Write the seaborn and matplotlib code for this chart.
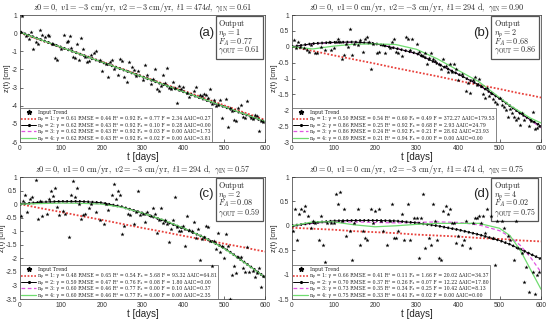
import matplotlib
matplotlib.use("Agg")
import matplotlib.pyplot as plt
from matplotlib.lines import Line2D
import seaborn as sns

sns.set_theme(style="ticks")
plt.rcParams['font.family'] = ['Liberation Sans', 'DejaVu Sans']
plt.rcParams['mathtext.fontset'] = 'cm'
plt.rcParams['axes.unicode_minus'] = False

# ---------------- data ----------------
t_a = [2,6,15,22,28,32,38,45,50,55,62,68,72,78,82,85,90,100,108,115,118,122,125,130,135,140,145,150,155,160,165,170,175,180,185,195,200,210,215,220,225,230,240,245,250,255,262,268,275,280,285,290,300,305,310,320,325,330,335,340,345,350,355,360,365,370,375,380,385,390,395,400,410,415,425,430,440,445,450,455,460,465,470,475,480,485,490,495,505,510,515,520,525,530,535,540,545,550,555,565,570,575,580,585,590,595]
z_a = [0.05,0.95,-0.15,-0.3,0.05,-0.85,-0.5,-0.6,0.2,-0.1,-0.2,-0.1,-0.15,-0.6,-0.6,-1.35,-1.5,-0.85,-0.1,-0.5,-0.45,-0.15,-0.8,-1.3,-1.35,-0.6,-1.5,-0.25,-0.9,-1.3,-1.6,-1.55,-1.2,-1.1,-1.0,-1.5,-2.1,-1.7,-2.4,-1.6,-1.5,-2.0,-2.3,-1.4,-1.55,-2.4,-2.7,-1.6,-1.85,-2.05,-2.35,-2.1,-2.6,-1.75,-2.3,-2.8,-2.55,-1.95,-3.1,-3.2,-2.9,-2.3,-2.75,-1.9,-3.0,-3.1,-2.7,-3.05,-3.85,-2.9,-3.1,-2.95,-3.3,-3.5,-3.2,-2.95,-3.4,-3.45,-3.35,-3.4,-3.6,-3.1,-3.9,-3.7,-4.0,-3.95,-3.7,-4.7,-3.65,-5.2,-4.1,-4.3,-4.8,-4.85,-4.1,-3.95,-4.6,-4.7,-3.75,-4.65,-4.75,-4.5,-4.55,-5.4,-4.85,-4.9]

t_b = [5,10,15,20,30,35,40,45,55,60,70,80,90,95,100,105,110,115,120,125,130,135,140,145,150,160,165,170,175,180,185,190,195,205,210,220,225,235,240,245,250,255,265,275,280,285,290,300,305,310,315,320,325,330,335,340,345,355,360,365,370,375,380,385,390,395,400,410,420,425,430,435,440,445,450,455,460,465,470,475,480,485,490,495,500,505,510,515,520,525,530,535,540,545,550,555,560,570,575,580,585,590,595]
z_b = [0.2,-0.05,0.15,0.0,-0.05,-0.1,-0.15,0.05,-0.2,-0.2,0.0,-0.1,0.15,-0.1,-0.05,0.15,0.25,0.15,-0.4,-0.25,0.1,0.0,0.55,-0.25,0.1,0.05,0.2,-0.15,0.25,0.3,0.15,-0.7,0.1,-0.2,-0.15,0.05,-0.2,-0.05,0.15,0.25,-0.15,-0.2,-0.3,0.3,0.25,-0.1,0.25,0.1,-0.15,-0.25,-0.3,-0.2,-0.55,-0.35,-0.2,-0.4,-0.45,-0.55,-0.7,-0.4,-0.6,-0.8,-0.55,-0.8,-0.55,-0.7,-1.05,-0.85,-1.4,-1.15,-1.45,-1.05,-0.95,-1.2,-1.0,-1.25,-1.5,-1.6,-1.3,-1.55,-1.45,-1.65,-1.75,-1.8,-1.6,-1.85,-1.9,-2.0,-2.2,-1.95,-2.1,-2.2,-2.3,-2.25,-2.45,-2.1,-2.3,-2.5,-2.35,-2.05,-2.6,-2.55,-2.5]

t_c = [2,8,12,18,25,30,40,45,50,55,65,70,75,80,85,90,95,105,110,120,125,130,135,140,145,150,155,160,170,175,185,195,205,210,215,225,230,235,240,245,250,255,265,270,280,285,290,295,300,305,310,320,325,330,335,340,345,350,355,360,365,370,375,380,385,390,395,400,405,410,415,420,425,430,435,440,445,450,455,460,465,470,475,480,485,490,495,500,505,510,515,520,525,530,535,540,545,550,555,560,570,575,580,585,590,595]
z_c = [-0.45,0.1,0.35,-0.3,0.2,0.25,0.9,-0.55,0.1,-0.45,-0.35,0.2,0.5,0.3,0.6,-0.1,-0.4,-0.25,-0.35,-1.2,0.35,0.85,0.25,0.6,0.0,-0.55,-0.4,-0.35,-0.15,0.0,-0.3,-0.6,-0.75,0.0,-0.2,0.35,0.75,0.2,0.5,0.35,-1.1,-0.8,-0.35,-0.4,-0.75,-0.3,0.5,-0.4,-0.35,-0.65,-0.3,-0.45,-0.15,-0.35,-1.05,-0.6,-0.15,-0.7,-0.6,-0.75,-1.4,-0.9,-0.6,0.25,-0.85,-1.0,-1.0,-0.8,-1.55,-0.45,-0.95,-1.0,-0.65,-1.25,-0.9,-2.05,-1.3,-1.2,-0.8,-0.85,-1.35,-2.3,-1.35,-1.65,-1.05,-1.75,-1.55,-2.0,-1.1,-1.55,-3.5,-2.6,-2.3,-2.55,-1.95,-1.95,-2.35,-2.5,-1.6,-2.5,-2.45,-2.7,-2.55,-2.35,-3.05,-2.65]

t_d = [2,8,12,18,22,28,32,38,45,50,55,65,70,75,80,85,95,100,105,110,115,120,125,130,140,145,150,160,165,170,175,180,190,195,200,210,215,220,230,235,240,245,250,255,265,270,280,285,295,300,305,310,315,320,330,335,340,345,350,355,360,365,370,375,380,385,390,395,400,410,415,420,430,435,440,445,450,455,460,465,470,480,485,490,495,505,510,520,525,535,540,545,555,560,565,570,580,585,590,595]
z_d = [-0.1,0.35,-0.3,0.25,0.35,0.3,0.4,0.2,-0.05,0.1,0.05,-0.3,0.2,-0.4,-0.75,0.05,0.05,0.05,0.65,0.45,0.7,0.1,0.35,-0.2,-0.1,-0.7,0.05,0.35,-0.4,-0.1,-0.25,-0.3,0.35,0.05,0.3,0.35,0.1,-0.1,-0.4,0.1,0.45,-0.25,-0.25,-0.1,0.25,-0.3,0.45,-0.3,0.15,0.15,-0.65,0.15,0.65,-0.45,-0.25,-0.4,0.45,0.1,-0.3,-0.65,-0.7,0.3,0.4,0.25,0.35,0.05,0.05,-0.35,-0.2,-0.4,-0.3,0.1,-0.45,0.05,0.15,0.15,0.2,0.05,0.2,-0.15,0.35,0.2,-0.25,-0.8,0.1,0.1,-0.05,-0.2,-0.3,-0.7,0.1,-0.45,-0.55,-1.15,-0.85,-1.35,-0.95,-1.4,-1.0,-0.95]

t_fit = [0,50,100,150,200,250,300,350,400,450,500,525,550,575,600]

fit_a1 = [0.02,-0.38,-0.78,-1.17,-1.57,-1.97,-2.38,-2.78,-3.17,-3.57,-3.98,-4.18,-4.38,-4.58,-4.78]
fit_a2 = [0.06,-0.35,-0.77,-1.18,-1.60,-2.00,-2.41,-2.83,-3.23,-3.65,-4.06,-4.27,-4.47,-4.68,-4.88]
fit_a3 = [0.06,-0.35,-0.77,-1.18,-1.60,-2.00,-2.41,-2.83,-3.23,-3.65,-4.06,-4.27,-4.47,-4.68,-4.88]
fit_a4 = [0.05,-0.36,-0.77,-1.18,-1.59,-2.00,-2.41,-2.82,-3.23,-3.64,-4.05,-4.26,-4.46,-4.67,-4.87]

fit_b1 = [0,-0.13,-0.27,-0.40,-0.53,-0.67,-0.80,-0.93,-1.07,-1.20,-1.33,-1.40,-1.47,-1.53,-1.60]
fit_b2 = [0,0.10,0.14,0.15,0.10,-0.05,-0.21,-0.53,-0.86,-1.20,-1.63,-1.86,-2.10,-2.30,-2.50]
fit_b3 = [0,0.09,0.13,0.14,0.10,-0.04,-0.22,-0.52,-0.86,-1.21,-1.62,-1.85,-2.10,-2.32,-2.55]
fit_b4 = [0,-0.07,0.02,0.08,0.09,0.07,-0.08,-0.38,-0.74,-1.10,-1.60,-1.85,-2.05,-2.25,-2.40]

fit_c1 = [0,-0.15,-0.29,-0.44,-0.58,-0.73,-0.88,-1.02,-1.17,-1.31,-1.46,-1.53,-1.60,-1.68,-1.75]
fit_c2 = [0,0.07,0.10,0.10,0.05,-0.10,-0.33,-0.60,-0.90,-1.22,-1.62,-1.88,-2.15,-2.42,-2.70]
fit_c3 = [0,0.03,0.05,0.04,0.01,-0.12,-0.33,-0.59,-0.89,-1.22,-1.63,-1.88,-2.15,-2.42,-2.70]
fit_c4 = [0,0.02,0.04,0.03,0.00,-0.12,-0.33,-0.58,-0.88,-1.22,-1.64,-1.89,-2.16,-2.43,-2.70]

fit_d1 = [-0.04,-0.06,-0.08,-0.11,-0.13,-0.15,-0.18,-0.20,-0.22,-0.25,-0.27,-0.28,-0.30,-0.31,-0.32]
fit_d2 = [0,0.06,0.10,0.11,0.11,0.10,0.06,0.00,-0.08,-0.18,-0.30,-0.38,-0.48,-0.58,-0.68]
fit_d3 = [0,0.05,0.08,0.08,0.07,0.06,0.07,0.08,0.07,0.02,-0.10,-0.22,-0.40,-0.65,-0.95]
fit_d4 = [0,0.08,0.08,0.02,-0.02,0.00,0.03,0.05,0.05,0.05,-0.05,-0.20,-0.50,-0.90,-1.30]

titles = [
    r"$z0 = 0,\ v1 = -3\ \mathrm{cm/yr},\ v2 = -3\ \mathrm{cm/yr},\ t1 = 474d,\ \gamma_{\mathrm{IN}} = 0.61$",
    r"$z0 = 0,\ v1 = 0\ \mathrm{cm/yr},\ v2 = -3\ \mathrm{cm/yr},\ t1 = 294\ \mathrm{d},\ \gamma_{\mathrm{IN}} = 0.90$",
    r"$z0 = 0,\ v1 = 0\ \mathrm{cm/yr},\ v2 = -3\ \mathrm{cm/yr},\ t1 = 294\ \mathrm{d},\ \gamma_{\mathrm{IN}} = 0.57$",
    r"$z0 = 0,\ v1 = 0\ \mathrm{cm/yr},\ v2 = -3\ \mathrm{cm/yr},\ t1 = 474\ \mathrm{d},\ \gamma_{\mathrm{IN}} = 0.75$",
]
panel_labels = ["(a)", "(b)", "(c)", "(d)"]
out_np = ["1", "2", "2", "4"]
out_fa = ["0.77", "0.68", "0.08", "0.02"]
out_gamma = ["0.61", "0.86", "0.59", "0.75"]

# legend stats: gamma, RMSE, R2, FA, F, dAIC
stats_a = [["0.61","0.44","0.92","0.77","2.34","0.27"],["0.62","0.43","0.92","0.10","0.28","0.00"],["0.62","0.43","0.92","0.03","0.00","1.73"],["0.62","0.43","0.92","0.02","0.00","3.81"]]
stats_b = [["0.50","0.54","0.60","0.49","372.27","179.53"],["0.86","0.25","0.92","0.68","2.93","24.79"],["0.86","0.24","0.92","0.21","28.62","23.93"],["0.89","0.21","0.94","0.00","0.00","0.00"]]
stats_c = [["0.48","0.65","0.54","5.68","93.32","64.81"],["0.59","0.47","0.76","0.08","1.80","0.00"],["0.60","0.46","0.77","0.00","0.10","0.37"],["0.60","0.46","0.77","0.00","0.00","2.35"]]
stats_d = [["0.66","0.41","0.11","1.66","20.02","34.37"],["0.70","0.37","0.26","0.07","12.22","17.80"],["0.73","0.35","0.34","0.25","10.42","8.13"],["0.75","0.33","0.41","0.02","0.00","0.00"]]

yticks_list = [
    [-6,-5,-4,-3,-2,-1,0,1],
    [-3,-2.5,-2,-1.5,-1,-0.5,0,0.5,1],
    [-3.5,-3,-2.5,-2,-1.5,-1,-0.5,0,0.5,1],
    [-1.5,-1,-0.5,0,0.5,1],
]
xticks = [0,100,200,300,400,500,600]

# ---------------- drawing ----------------
fig = plt.figure(figsize=(5.5, 3.25), dpi=100)
W, H = 550, 325
boxes = [(20, 15, 265, 142), (292, 15, 541, 142), (20, 177, 265, 299), (292, 177, 541, 299)]

pts = [(t_a, z_a), (t_b, z_b), (t_c, z_c), (t_d, z_d)]
fits = [(fit_a1, fit_a2, fit_a3, fit_a4), (fit_b1, fit_b2, fit_b3, fit_b4),
        (fit_c1, fit_c2, fit_c3, fit_c4), (fit_d1, fit_d2, fit_d3, fit_d4)]
stats = [stats_a, stats_b, stats_c, stats_d]

RED = "#e8413c"
MAG = "#e055e0"
GRN = "#6fdc6f"

for i in range(4):
    x0, y0, x1, y1 = boxes[i]
    ax = fig.add_axes([x0 / W, 1 - y1 / H, (x1 - x0) / W, (y1 - y0) / H])
    tt, zz = pts[i]
    f1, f2, f3, f4 = fits[i]
    sns.lineplot(x=t_fit, y=f1, ax=ax, color=RED, linestyle=(0, (1, 1)), linewidth=1.3, zorder=2)
    sns.lineplot(x=t_fit, y=f3, ax=ax, color=MAG, linestyle=(0, (3, 2)), linewidth=0.9, zorder=3)
    sns.lineplot(x=t_fit, y=f2, ax=ax, color="black", linestyle="-", linewidth=0.7, zorder=4)
    sns.lineplot(x=t_fit, y=f2, ax=ax, color="black", linestyle=(0, (0.6, 1.0)), linewidth=1.9, zorder=4)
    sns.lineplot(x=t_fit, y=f4, ax=ax, color=GRN, linestyle="-", linewidth=0.9, zorder=5)
    sns.scatterplot(x=tt, y=zz, ax=ax, color="black", marker="*", s=10, linewidth=0, zorder=6)

    ax.set_xlim(0, 600)
    yt = yticks_list[i]
    ax.set_ylim(yt[0], yt[-1])
    ax.set_xticks(xticks)
    ax.set_yticks(yt)
    ax.set_yticklabels([("%g" % v) for v in yt])
    ax.tick_params(direction="in", length=2, width=0.5, labelsize=4.8, pad=2, colors="#333333")
    for s in ax.spines.values():
        s.set_linewidth(0.5)
        s.set_color("#333333")
    ax.set_xlabel("t [days]", fontsize=7, labelpad=0)
    ax.set_ylabel("z(t) [cm]", fontsize=5.5, labelpad=0)
    ax.set_title(titles[i], fontsize=5.9, pad=3.5)

    # legend (plain serif text so rows stay compact)
    handles = [
        Line2D([], [], marker="*", color="black", linestyle="none", markersize=3.5),
        Line2D([], [], color=RED, linestyle=(0, (1, 1)), linewidth=1.2),
        Line2D([], [], color="black", linestyle="-", linewidth=0.7, marker=".", markersize=2.5),
        Line2D([], [], color=MAG, linestyle=(0, (3, 2)), linewidth=0.9),
        Line2D([], [], color=GRN, linestyle="-", linewidth=0.9),
    ]
    labels = ["Input Trend"]
    for k, st in enumerate(stats[i]):
        labels.append("n\u209a = %d: \u03b3 = %s RMSE = %s R\u00b2 = %s F\u2090 = %s F = %s \u0394AIC=%s"
                      % (k + 1, st[0], st[1], st[2], st[3], st[4], st[5]))
    leg = ax.legend(handles, labels, loc="lower left", bbox_to_anchor=(0, 0), borderaxespad=0,
                    prop={"family": ["DejaVu Serif"], "size": 3.45},
                    handlelength=3.0, labelspacing=0.3, borderpad=0.3,
                    handletextpad=0.4, fancybox=False, framealpha=1, edgecolor="#555555")
    leg.get_frame().set_linewidth(0.5)

    # panel label
    ax.text(0.76, 0.86, panel_labels[i], transform=ax.transAxes, fontsize=9.5,
            ha="center", va="center", family="Liberation Sans")
    # output box
    out_txt = (r"$\mathrm{Output}$" + "\n" + r"$n_p = %s$" % out_np[i] + "\n" +
               r"$F_A = %s$" % out_fa[i] + "\n" + r"$\gamma_{\mathrm{OUT}} = %s$" % out_gamma[i])
    ax.text(0.81, 0.975, out_txt, transform=ax.transAxes, fontsize=5.8, ha="left", va="top",
            linespacing=0.62,
            bbox=dict(boxstyle="square,pad=0.3", facecolor="white", edgecolor="#555555", linewidth=0.9))

fig.savefig("out.png", dpi=100)
